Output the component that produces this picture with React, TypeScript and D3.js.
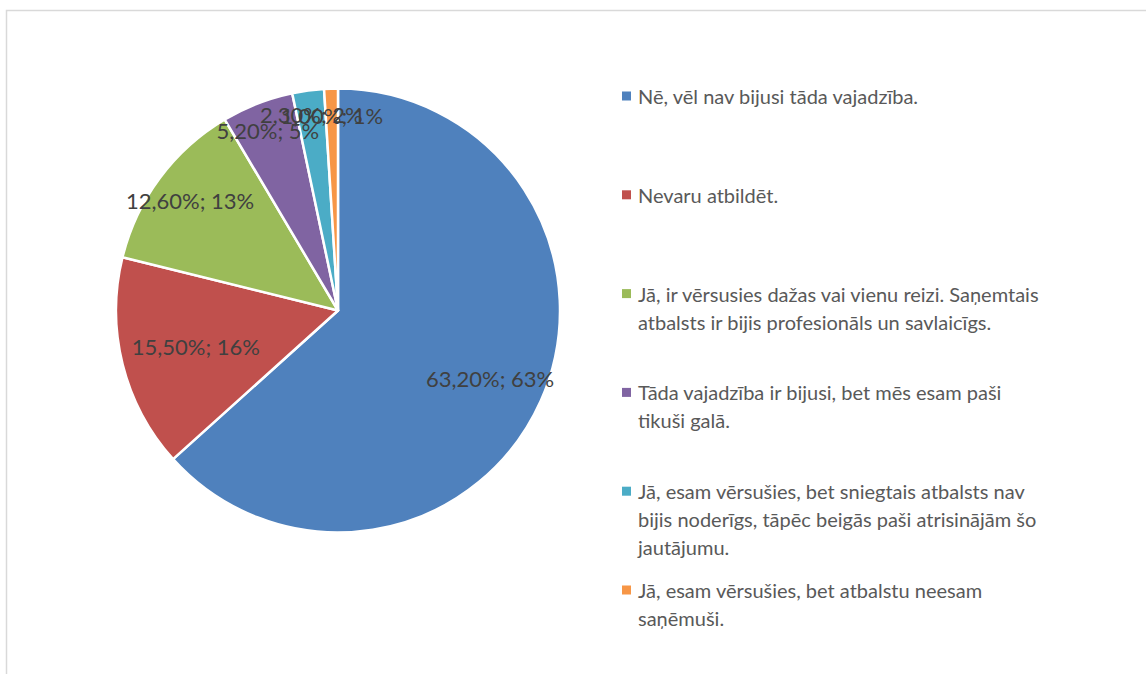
import React from "react";
import * as d3 from "d3";

const categories: string[][] = [
  ["Nē, vēl nav bijusi tāda vajadzība."],
  ["Nevaru atbildēt."],
  ["Jā, ir vērsusies dažas vai vienu reizi. Saņemtais", "atbalsts ir bijis profesionāls un savlaicīgs."],
  ["Tāda vajadzība ir bijusi, bet mēs esam paši", "tikuši galā."],
  ["Jā, esam vērsušies, bet sniegtais atbalsts nav", "bijis noderīgs, tāpēc beigās paši atrisinājām šo", "jautājumu."],
  ["Jā, esam vērsušies, bet atbalstu neesam", "saņēmuši."],
];
const values: number[] = [63.2, 15.5, 12.6, 5.2, 2.3, 1.0];
const dataLabels: string[] = ["63,20%; 63%", "15,50%; 16%", "12,60%; 13%", "5,20%; 5%", "2,30%; 2%", "1,00%; 1%"];
const colors: string[] = ["#4F81BD", "#C0504D", "#9BBB59", "#8064A2", "#4BACC6", "#F79646"];
const labelRadiusFactors: number[] = [0.75, 0.66, 0.83, 0.87, 0.89, 0.88];

const W = 1146;
const H = 674;
const cx = 338;
const cy = 310.5;
const R = 222;
const FONT = "Lato, 'Open Sans', sans-serif";

export default function App() {
  const pie = d3.pie<number>().sort(null).value((d) => d);
  const arcs = pie(values);
  const arcGen = d3.arc<d3.PieArcDatum<number>>().innerRadius(0).outerRadius(R);

  const legendY = d3.scaleLinear().domain([0, categories.length - 1]).range([96, 590]);
  const lineH = 28;

  return (
    <div style={{ position: "absolute", left: 0, top: 0 }}>
      <svg width={W} height={H} style={{ display: "block", background: "#fff" }}>
        <path d={`M6.5,${H} L6.5,10.5 L${W},10.5`} fill="none" stroke="#D9D9D9" strokeWidth={1.5} />
        <g transform={`translate(${cx},${cy})`}>
          {arcs.map((a, i) => (
            <path key={i} d={arcGen(a) || ""} fill={colors[i]} stroke="#fff" strokeWidth={2.5} strokeLinejoin="round" />
          ))}
          {arcs.map((a, i) => {
            const r = R * labelRadiusFactors[i];
            const lab = d3.arc<d3.PieArcDatum<number>>().innerRadius(r).outerRadius(r);
            const [x, y] = lab.centroid(a);
            return (
              <text key={i} x={x} y={y} textAnchor="middle" dominantBaseline="central"
                fontFamily={FONT} fontSize={22} fill="#404040">
                {dataLabels[i]}
              </text>
            );
          })}
        </g>
        <g>
          {categories.map((lines, i) => {
            const y0 = legendY(i);
            return (
              <g key={i}>
                <rect x={622} y={y0 - 4.5} width={9} height={9} fill={colors[i]} />
                {lines.map((ln, j) => (
                  <text key={j} x={638} y={y0 + j * lineH} dominantBaseline="central"
                    fontFamily={FONT} fontSize={20} fill="#595959">
                    {ln}
                  </text>
                ))}
              </g>
            );
          })}
        </g>
      </svg>
    </div>
  );
}
